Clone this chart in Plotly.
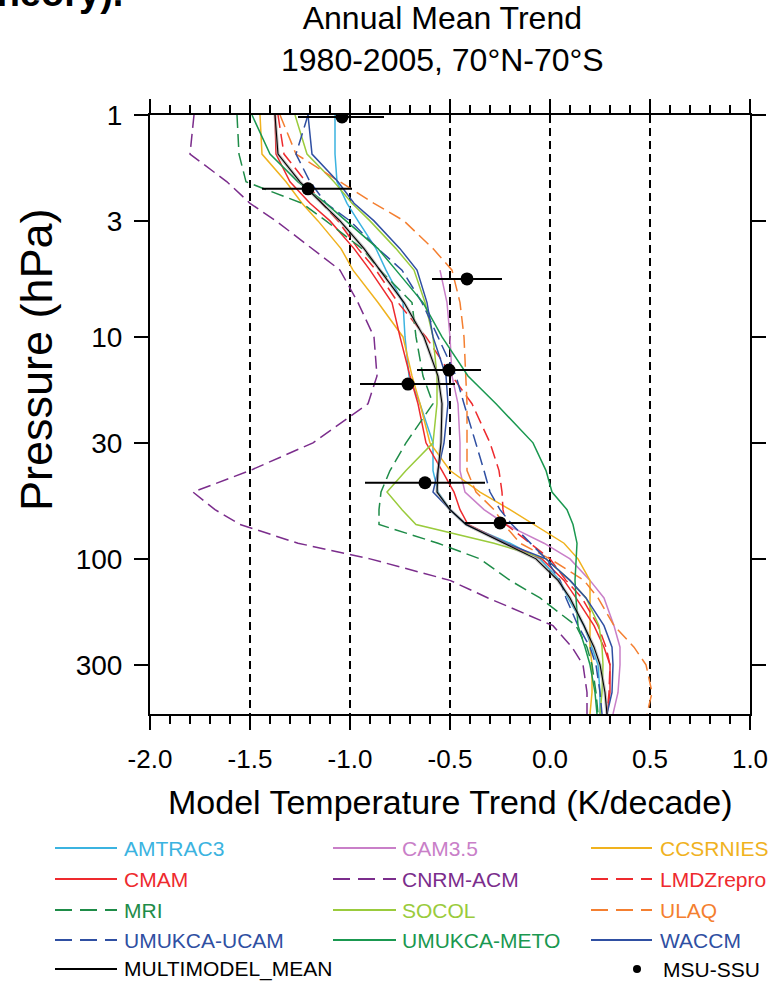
import numpy as np
import plotly.graph_objects as go

# ---------------- data ----------------
PRESSURE = [1, 1.5, 2, 2.5, 3, 4, 5, 7, 10, 15, 20, 30, 40, 50, 60, 70, 85,
            100, 125, 150, 200, 250, 300, 400, 500]

AMTRAC3 = [-1.075, -1.075, -1.065, -1.015, -0.96, -0.87, -0.82, -0.735, -0.725, -0.705, -0.65,
           -0.585, -0.585, -0.56, -0.50, -0.42, -0.20, -0.05, 0.05, 0.09, 0.17, 0.21, 0.24, 0.25, 0.25]
CAM35 = [None, None, None, None, None, None, -0.55, -0.515, -0.50, -0.49, -0.46,
         -0.45, -0.45, -0.425, -0.33, -0.22, -0.03, 0.10, 0.20, 0.27, 0.32, 0.35, 0.35, 0.34, 0.315]
CCSRNIES = [-1.45, -1.44, -1.32, -1.24, -1.16, -1.045, -0.985, -0.86, -0.735, -0.69, -0.65,
            -0.60, -0.50, -0.35, -0.20, -0.08, 0.07, 0.14, 0.20, 0.20, 0.20, 0.20, 0.21, 0.21, 0.20]
CMAM = [-1.375, -1.37, -1.30, -1.20, -1.10, -0.98, -0.90, -0.79, -0.75, -0.70, -0.66,
        -0.62, -0.54, -0.48, -0.45, -0.41, -0.22, -0.04, 0.07, 0.13, 0.22, 0.27, 0.30, 0.30, 0.285]
CNRM_ACM = [-1.78, -1.80, -1.615, -1.50, -1.37, -1.19, -1.05, -0.96, -0.88, -0.865, -0.91,
            -1.185, -1.50, -1.785, -1.675, -1.55, -1.26, -0.90, -0.50, -0.31, 0.015, 0.11, 0.165, 0.185, 0.185]
LMDZREPRO = [-1.36, -1.33, -1.22, -1.14, -1.06, -0.96, -0.87, -0.76, -0.62, -0.49, -0.39,
             -0.30, -0.255, -0.24, -0.235, -0.22, -0.10, 0.00, 0.08, 0.16, 0.24, 0.28, 0.30, 0.295, 0.285]
MRI = [-1.565, -1.555, -1.52, -1.24, -1.12, -0.94, -0.85, -0.69, -0.67, -0.635, -0.585,
       -0.72, -0.80, -0.845, -0.855, -0.855, -0.56, -0.35, -0.20, -0.05, 0.13, 0.185, 0.21, 0.23, 0.24]
SOCOL = [-1.275, -1.215, -1.08, -0.99, -0.90, -0.77, -0.68, -0.625, -0.585, -0.565, -0.565,
         -0.585, -0.72, -0.815, -0.74, -0.67, -0.28, -0.02, 0.10, 0.18, 0.245, 0.26, 0.265, 0.26, 0.25]
ULAQ = [-1.35, -1.27, -1.05, -0.88, -0.73, -0.585, -0.49, -0.45, -0.43, -0.42, -0.415,
        -0.415, -0.415, -0.37, -0.28, -0.23, -0.15, 0.00, 0.17, 0.24, 0.32, 0.42, 0.48, 0.51, 0.485]
UMUKCA_UCAM = [-1.21, -1.27, -1.20, -1.12, -1.00, -0.86, -0.74, -0.64, -0.56, -0.47, -0.43,
               -0.37, -0.33, -0.30, -0.25, -0.19, -0.10, -0.02, 0.05, 0.08, 0.14, 0.20, 0.23, 0.25, 0.26]
UMUKCA_METO = [-1.49, -1.40, -1.26, -1.12, -1.02, -0.86, -0.77, -0.635, -0.54, -0.41, -0.27,
               -0.085, -0.02, 0.01, 0.085, 0.115, 0.135, 0.13, 0.125, 0.13, 0.14, 0.175, 0.20, 0.225, 0.235]
WACCM = [-1.21, -1.19, -1.06, -0.98, -0.88, -0.75, -0.665, -0.615, -0.585, -0.52, -0.51,
         -0.53, -0.56, -0.585, -0.50, -0.42, -0.22, -0.02, 0.10, 0.18, 0.27, 0.31, 0.315, 0.31, 0.285]
MULTIMODEL_MEAN = [-1.375, -1.36, -1.25, -1.14, -1.05, -0.93, -0.85, -0.73, -0.63, -0.56, -0.54,
                   -0.545, -0.56, -0.565, -0.50, -0.42, -0.23, -0.07, 0.04, 0.10, 0.17, 0.22, 0.25, 0.275, 0.285]

OBS_P = [1.02, 2.15, 5.48, 14.1, 16.3, 45.4, 68.9]
OBS_T = [-1.04, -1.21, -0.415, -0.505, -0.71, -0.625, -0.25]
OBS_ERR_MINUS = [0.22, 0.23, 0.175, 0.16, 0.24, 0.30, 0.175]
OBS_ERR_PLUS = [0.21, 0.22, 0.175, 0.16, 0.235, 0.30, 0.175]

MODEL_NAMES = ["AMTRAC3", "CAM3.5", "CCSRNIES", "CMAM", "CNRM-ACM", "LMDZrepro",
               "MRI", "SOCOL", "ULAQ", "UMUKCA-UCAM", "UMUKCA-METO", "WACCM"]
MODEL_VALUES = [AMTRAC3, CAM35, CCSRNIES, CMAM, CNRM_ACM, LMDZREPRO,
                MRI, SOCOL, ULAQ, UMUKCA_UCAM, UMUKCA_METO, WACCM]
MEAN_NAME = "MULTIMODEL_MEAN"
OBS_NAME = "MSU-SSU"

X_TICKS = [-2.0, -1.5, -1.0, -0.5, 0.0, 0.5, 1.0]
X_TICK_LABELS = ["-2.0", "-1.5", "-1.0", "-0.5", "0.0", "0.5", "1.0"]
Y_TICKS = [1, 3, 10, 30, 100, 300]
Y_TICK_LABELS = ["1", "3", "10", "30", "100", "300"]

TITLE = "Annual Mean Trend<br>1980-2005, 70°N-70°S"
X_TITLE = "Model Temperature Trend (K/decade)"
Y_TITLE = "Pressure (hPa)"

# ---------------- styles ----------------
COLORS = ["#3bb3e0", "#c97fc8", "#f0b21e", "#ee2a2e", "#7b2d8c", "#ee2a2e",
          "#1e8c48", "#9acb3c", "#f47f30", "#2f4fa2", "#1a9850", "#2f4fa2"]
DASHED = [False, False, False, False, True, True, True, False, True, True, False, False]
CURVE_DASH = "13px,6px"
LEGEND_DASH = "17px,8px"
FONT = "Liberation Sans, Arial, Helvetica, sans-serif"

W, H = 769, 983
ML, MR, MT, MB = 150, 19, 115, 269
PW, PH = W - ML - MR, H - MT - MB


def px_x(X):
    return (X - ML) / PW


def px_y(Y):
    return (H - MB - Y) / PH


fig = go.Figure()

for name, vals, col, dsh in zip(MODEL_NAMES, MODEL_VALUES, COLORS, DASHED):
    fig.add_trace(go.Scatter(
        x=vals, y=PRESSURE, mode="lines", name=name, showlegend=False,
        line=dict(color=col, width=1.5, dash=CURVE_DASH if dsh else "solid"),
    ))

# multimodel mean (grey halo + black line)
fig.add_trace(go.Scatter(x=MULTIMODEL_MEAN, y=PRESSURE, mode="lines", showlegend=False,
                         line=dict(color="rgba(150,150,150,0.55)", width=3.2), hoverinfo="skip"))
fig.add_trace(go.Scatter(x=MULTIMODEL_MEAN, y=PRESSURE, mode="lines", name=MEAN_NAME,
                         showlegend=False, line=dict(color="black", width=1.1)))

# observations
fig.add_trace(go.Scatter(
    x=OBS_T, y=OBS_P, mode="markers", name=OBS_NAME, showlegend=False,
    marker=dict(color="black", size=13),
    error_x=dict(type="data", array=OBS_ERR_PLUS, arrayminus=OBS_ERR_MINUS,
                 color="black", thickness=2, width=0),
))

# ---------------- legend (drawn manually, 3 columns) ----------------
LEG_LINE_X = [(55, 117), (333, 396), (591, 652)]
LEG_TEXT_X = [122, 400, 658]
LEG_ROW_Y = [848, 879, 910, 940, 969]

shapes = []
annotations = []
for i, (name, col, dsh) in enumerate(zip(MODEL_NAMES, COLORS, DASHED)):
    r, c = divmod(i, 3)
    y = px_y(LEG_ROW_Y[r])
    x0, x1 = LEG_LINE_X[c]
    shapes.append(dict(type="line", xref="paper", yref="paper", x0=px_x(x0), x1=px_x(x1),
                       y0=y, y1=y, line=dict(color=col, width=2,
                                             dash=LEGEND_DASH if dsh else "solid")))
    annotations.append(dict(xref="paper", yref="paper", x=px_x(LEG_TEXT_X[c]), y=y,
                            text=name, showarrow=False, xanchor="left", yanchor="middle",
                            font=dict(family=FONT, size=21, color=col)))
# mean row
y = px_y(LEG_ROW_Y[4])
shapes.append(dict(type="line", xref="paper", yref="paper", x0=px_x(LEG_LINE_X[0][0]),
                   x1=px_x(LEG_LINE_X[0][1]), y0=y, y1=y, line=dict(color="black", width=2)))
annotations.append(dict(xref="paper", yref="paper", x=px_x(LEG_TEXT_X[0]), y=y, text=MEAN_NAME,
                        showarrow=False, xanchor="left", yanchor="middle",
                        font=dict(family=FONT, size=21, color="black")))
shapes.append(dict(type="circle", xref="paper", yref="paper",
                   x0=px_x(633), x1=px_x(641), y0=px_y(LEG_ROW_Y[4] - 4), y1=px_y(LEG_ROW_Y[4] + 4),
                   fillcolor="black", line=dict(color="black", width=0)))
annotations.append(dict(xref="paper", yref="paper", x=px_x(661), y=y, text=OBS_NAME,
                        showarrow=False, xanchor="left", yanchor="middle",
                        font=dict(family=FONT, size=21, color="black")))

# titles
annotations.append(dict(xref="paper", yref="paper", x=px_x(442), y=px_y(39), text=TITLE,
                        showarrow=False, xanchor="center", yanchor="middle",
                        font=dict(family=FONT, size=32, color="black")))
annotations.append(dict(xref="paper", yref="paper", x=px_x(450), y=px_y(802), text=X_TITLE,
                        showarrow=False, xanchor="center", yanchor="middle",
                        font=dict(family=FONT, size=34, color="black")))
annotations.append(dict(xref="paper", yref="paper", x=px_x(36), y=px_y(360), text=Y_TITLE,
                        showarrow=False, xanchor="center", yanchor="middle", textangle=-90,
                        font=dict(family=FONT, size=45, color="black")))
# cropped text from the page above
annotations.append(dict(xref="paper", yref="paper", x=px_x(125), y=px_y(-7), text="<b>theory).</b>",
                        showarrow=False, xanchor="right", yanchor="middle",
                        font=dict(family=FONT, size=38, color="black")))

fig.update_layout(
    width=W, height=H, autosize=False,
    margin=dict(l=ML, r=MR, t=MT, b=MB, pad=0),
    paper_bgcolor="white", plot_bgcolor="white",
    showlegend=False,
    shapes=shapes, annotations=annotations,
    font=dict(family=FONT, color="black"),
)

fig.update_xaxes(
    range=[-2.0, 1.0], tickvals=X_TICKS, ticktext=X_TICK_LABELS, automargin=False,
    showline=True, linecolor="black", linewidth=2, mirror="allticks",
    ticks="outside", ticklen=14, tickwidth=2, tickcolor="black",
    minor=dict(ticks="outside", ticklen=8, tickwidth=1.5, tickcolor="black", dtick=0.1, showgrid=False),
    showgrid=True, gridcolor="black", gridwidth=1.5, griddash="8px,5px",
    zeroline=False, tickfont=dict(family=FONT, size=26, color="black"),
    ticklabelstandoff=7, ticklabeloverflow="allow",
)
fig.update_yaxes(
    type="log", range=[np.log10(500), 0], tickvals=Y_TICKS, ticktext=Y_TICK_LABELS, automargin=False,
    showline=True, linecolor="black", linewidth=2, mirror="ticks",
    ticks="outside", ticklen=14, tickwidth=2, tickcolor="black",
    showgrid=False, zeroline=False, tickfont=dict(family=FONT, size=28, color="black"),
    ticklabelstandoff=6, ticklabeloverflow="allow",
)

fig.write_html("out.html")
